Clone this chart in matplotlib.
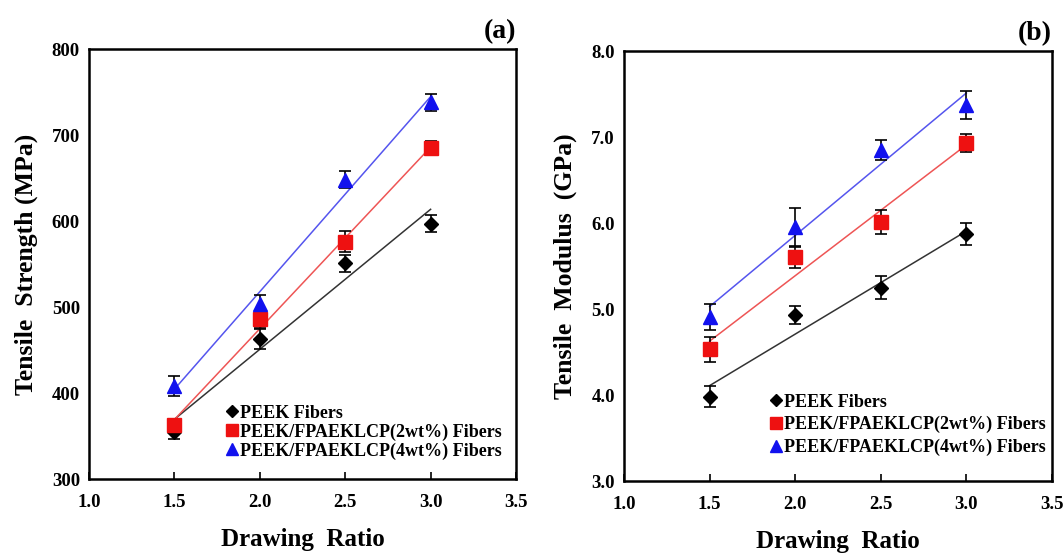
import numpy as np
import matplotlib.pyplot as plt

plt.rcParams['font.family'] = ['Liberation Serif', 'DejaVu Serif']
plt.rcParams['font.weight'] = 'bold'

# drawing ratio
ratio = [1.5, 2.0, 2.5, 3.0]

# tensile strength (MPa) and error
ts_peek = [355, 463, 551, 597]
ts_peek_err = [9, 12, 10, 10]
ts_2wt = [363, 486, 576, 685]
ts_2wt_err = [6, 10, 12, 8]
ts_4wt = [408, 504, 648, 738]
ts_4wt_err = [12, 10, 10, 10]

# tensile modulus (GPa) and error
tm_peek = [3.98, 4.93, 5.25, 5.87]
tm_peek_err = [0.12, 0.10, 0.13, 0.13]
tm_2wt = [4.53, 5.60, 6.01, 6.93]
tm_2wt_err = [0.15, 0.12, 0.14, 0.10]
tm_4wt = [4.91, 5.95, 6.85, 7.37]
tm_4wt_err = [0.15, 0.22, 0.12, 0.16]

labels = ['PEEK Fibers', 'PEEK/FPAEKLCP(2wt%) Fibers', 'PEEK/FPAEKLCP(4wt%) Fibers']

W, H = 1063, 556
fig = plt.figure(figsize=(W/100, H/100), dpi=100)
ax1 = fig.add_axes([89/W, 1-479/H, 427/W, 430/H])
ax2 = fig.add_axes([624/W, 1-481/H, 428/W, 430/H])


def panel(ax, series, ylim, yticks, yfmt, ylabel, tag, legpos, legspace, xpad):
    x = np.array(ratio)
    styles = [('D', 'black', '#333333', 7), ('s', '#ee1111', '#ee5555', 9.5), ('^', '#1111ee', '#5555ee', 9.5)]
    handles = []
    for (y, err), (m, c, lc, ms), lab in zip(series, styles, labels):
        k, b = np.polyfit(x, y, 1)
        ax.plot(x, k*x + b, color=lc, lw=1.1, zorder=2)
        ax.errorbar(x, y, yerr=err, fmt='none', ecolor='black', elinewidth=1.2, capsize=4, capthick=1.2, zorder=3)
        h, = ax.plot(x, y, m, color=c, ms=ms, ls='none', zorder=4, label=lab)
        handles.append(h)
    ax.set_xlim(1.0, 3.5)
    ax.set_ylim(*ylim)
    ax.set_xticks([1.0, 1.5, 2.0, 2.5, 3.0, 3.5])
    ax.set_xticklabels(['%.1f' % v for v in [1.0, 1.5, 2.0, 2.5, 3.0, 3.5]])
    ax.set_yticks(yticks)
    ax.set_yticklabels([yfmt % v for v in yticks])
    ax.tick_params(direction='in', length=5, width=1.2, labelsize=13.5, pad=11)
    ax.tick_params(axis='y', length=0, pad=6.5)
    for s in ax.spines.values():
        s.set_linewidth(1.8)
    ax.set_xlabel('Drawing  Ratio', fontsize=18, fontweight='bold', labelpad=xpad)
    ax.set_ylabel(ylabel, fontsize=18.5, fontweight='bold', labelpad=10)
    ax.text(1.0, 1.012, tag, transform=ax.transAxes, ha='right', va='bottom', fontsize=20, fontweight='bold')
    ax.legend(handles=handles, loc='upper left', bbox_to_anchor=legpos, frameon=False,
              handlelength=0.6, handletextpad=0.15, borderaxespad=0, labelspacing=legspace,
              prop={'size': 13, 'weight': 'bold'}, markerscale=0.85)


panel(ax1, [(ts_peek, ts_peek_err), (ts_2wt, ts_2wt_err), (ts_4wt, ts_4wt_err)],
      (300, 800), [300, 400, 500, 600, 700, 800], '%d', 'Tensile  Strength (MPa)', '(a)',
      (0.305, 0.19), 0.1, 12)
panel(ax2, [(tm_peek, tm_peek_err), (tm_2wt, tm_2wt_err), (tm_4wt, tm_4wt_err)],
      (3.0, 8.0), [3.0, 4.0, 5.0, 6.0, 7.0, 8.0], '%.1f', 'Tensile  Modulus  (GPa)', '(b)',
      (0.325, 0.22), 0.3, 12)

fig.savefig('out.png', dpi=100)
